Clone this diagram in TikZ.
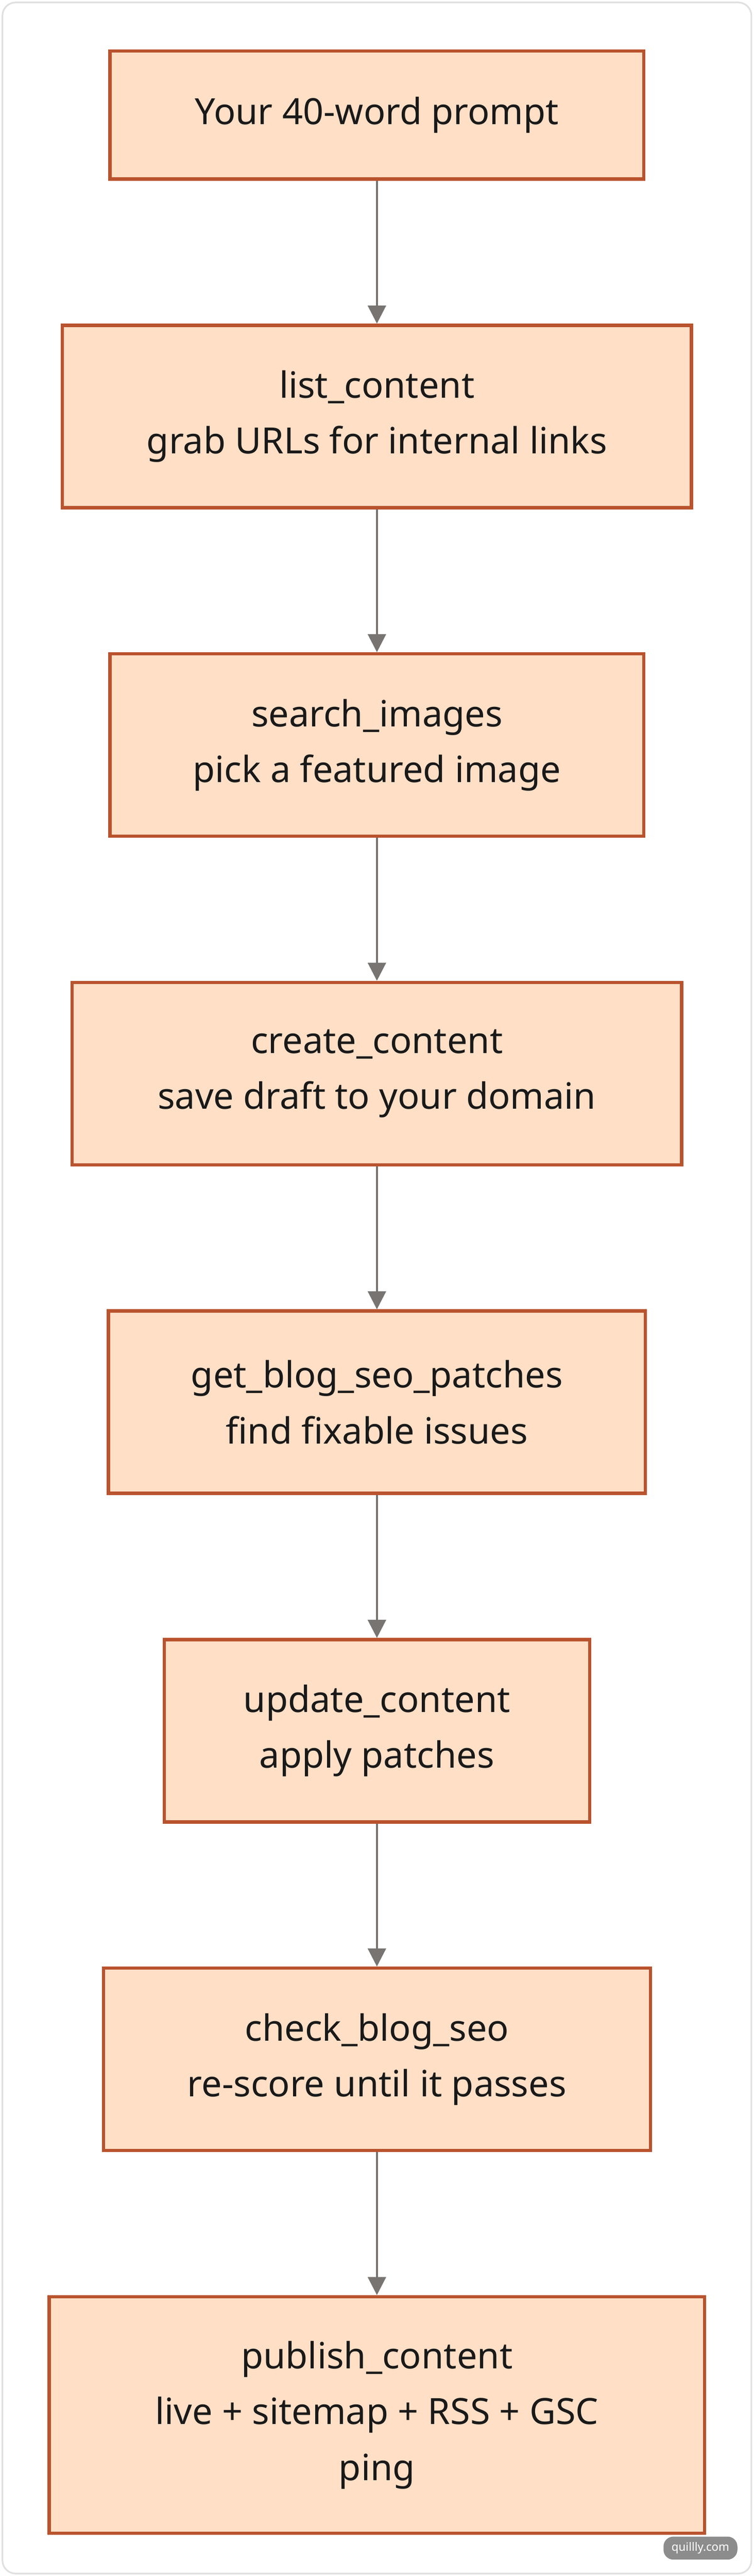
\documentclass[tikz,border=0pt]{standalone}
\usepackage{fontspec}
\setmainfont{Noto Sans}
\usetikzlibrary{positioning,arrows.meta}
\definecolor{boxfill}{HTML}{FFDFC6}
\definecolor{boxline}{HTML}{B9532E}
\definecolor{flowgray}{HTML}{777471}
\tikzset{
  stage/.style={draw=boxline, line width=2pt, fill=boxfill, align=center,
    inner sep=0pt, font=\fontsize{22}{34}\selectfont, text=black!90},
  flow/.style={draw=flowgray, line width=1.2pt, -{Triangle[length=11pt,width=11pt]}}
}
\begin{document}
\begin{tikzpicture}[x=1pt,y=1pt, node distance=87pt]
      \useasboundingbox (0,0) rectangle (459,-1568);
      \draw[black!12, line width=1pt, rounded corners=8pt, fill=white] (1.5,-1.5) rectangle (457.5,-1566.5);
      \node[stage, minimum width=325pt, minimum height=78pt, anchor=north] (prompt) at (229.5,-30) {Your 40-word prompt};
      \node[stage, minimum width=383pt, minimum height=111pt, below=of prompt] (list) {list\_content\\grab URLs for internal links};
      \node[stage, minimum width=325pt, minimum height=111pt, below=of list] (images) {search\_images\\pick a featured image};
      \node[stage, minimum width=371pt, minimum height=111pt, below=of images] (create) {create\_content\\save draft to your domain};
      \node[stage, minimum width=327pt, minimum height=111pt, below=of create] (patches) {get\_blog\_seo\_patches\\find fixable issues};
      \node[stage, minimum width=259pt, minimum height=111pt, below=of patches] (update) {update\_content\\apply patches};
      \node[stage, minimum width=333pt, minimum height=111pt, below=of update] (check) {check\_blog\_seo\\re-score until it passes};
      \node[stage, minimum width=399pt, minimum height=144pt, below=of check] (publish) {publish\_content\\live + sitemap + RSS + GSC\\ping};
      \foreach \a/\b in {prompt/list,list/images,images/create,create/patches,patches/update,update/check,check/publish}
        \draw[flow] (\a) -- (\b);
      \node[fill=black!45, rounded corners=6pt, minimum width=45pt, minimum height=14pt, inner sep=0pt,
        text=white, font=\fontsize{7}{8}\selectfont\bfseries] (mark) at (426.5,-1551) {quillly.com};
\end{tikzpicture}
\end{document}
